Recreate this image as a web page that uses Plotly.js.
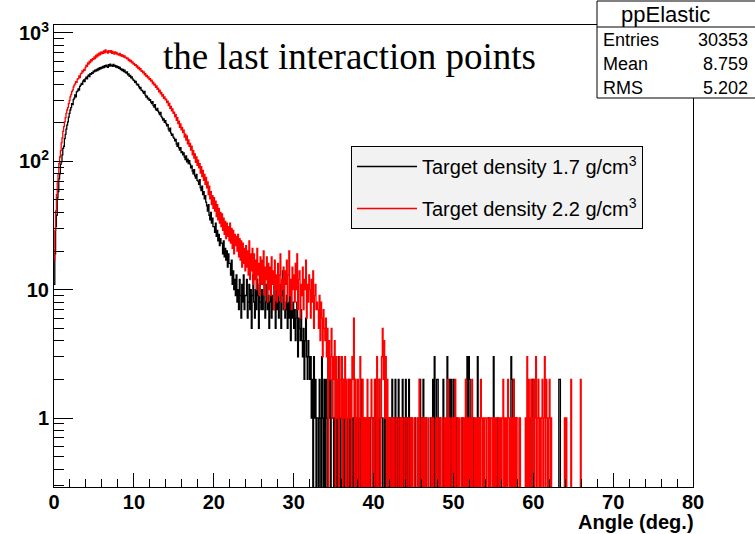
<!DOCTYPE html>
<html>
<head>
<meta charset="utf-8">
<script src="https://cdn.plot.ly/plotly-3.0.1.min.js"></script>
<style>html,body{margin:0;padding:0;background:#fff;}#chart{width:755px;height:534px;}</style>
</head>
<body>
<div id="chart"></div>
<script>
// Histogram: angle of the last interaction points, 800 bins of 0.1 deg from 0 to 80 deg
const binWidth = 0.1;
const binStart = 0;
const binEnd = 80;

const seriesNames = ['Target density 1.7 g/cm<sup>3</sup>', 'Target density 2.2 g/cm<sup>3</sup>'];

// counts per bin, density 1.7 g/cm3 (black); one row = 1 degree
const countsDensity17 = [
  11,19,31,38,52,58,73,80,95,99,
  112,126,131,150,162,178,191,203,221,236,
  251,262,281,276,302,311,329,318,347,352,
  366,359,384,392,405,398,421,430,417,441,
  452,438,461,470,457,482,476,491,485,503,
  498,512,505,521,509,530,518,537,526,541,
  533,549,538,556,544,561,548,539,566,552,
  571,555,562,548,568,551,559,542,553,537,
  546,529,538,517,524,508,521,499,512,494,
  487,496,471,479,458,466,447,455,438,429,
  426,413,419,401,392,398,381,369,376,358,
  356,347,339,351,328,317,322,306,311,298,
  302,289,281,292,271,264,276,255,249,258,
  246,238,231,240,224,218,209,214,201,207,
  197,189,193,178,172,181,166,159,163,154,
  151,144,148,136,131,139,127,122,128,117,
  119,112,116,108,103,110,99,104,96,101,
  95,89,92,84,80,86,77,74,79,71,
  70,66,72,62,59,64,55,58,51,54,
  48,45,41,46,38,35,40,33,36,31,
  31,28,33,26,29,24,27,22,25,23,
  23,19,24,18,21,17,20,15,19,16,
  16,13,17,11,14,10,12,9,13,8,
  10,7,12,9,6,11,8,13,7,9,
  9,12,6,8,11,7,10,5,9,13,
  8,6,10,7,12,9,5,11,8,7,
  10,7,9,13,6,8,11,7,9,5,
  8,11,6,9,7,12,8,5,10,7,
  9,6,8,11,5,9,14,7,8,6,
  7,9,5,8,6,10,4,7,6,8,
  5,7,4,6,8,3,6,5,4,7,
  4,3,5,2,4,6,3,2,4,3,
  2,3,1,2,0,3,1,2,0,1,
  1,0,2,1,0,3,1,0,2,0,
  2,1,0,3,1,2,0,1,2,1,
  0,1,2,0,1,0,3,1,0,1,
  1,0,2,0,1,0,0,1,0,2,
  0,1,0,0,1,0,2,0,0,1,
  1,0,0,1,0,2,0,0,1,0,
  0,0,1,0,0,1,0,0,0,1,
  1,0,2,0,1,0,0,2,0,0,
  0,1,0,0,2,0,1,0,0,0,
  1,0,0,2,0,1,0,2,0,1,
  0,2,0,1,0,0,2,0,1,0,
  2,0,1,0,2,0,0,1,0,0,
  0,0,1,0,0,0,1,0,2,0,
  1,0,2,0,0,1,0,0,0,0,
  0,1,0,0,2,0,3,1,0,2,
  2,0,0,1,0,0,0,2,0,0,
  0,0,3,1,0,2,0,2,0,0,
  2,0,0,0,1,0,0,0,0,0,
  0,1,0,0,0,0,2,3,0,3,
  2,1,0,0,0,1,0,0,0,0,
  3,0,0,1,0,0,0,0,0,0,
  0,0,0,0,1,0,0,0,0,0,
  3,0,0,0,0,1,0,0,0,0,
  0,0,0,0,0,0,0,0,0,0,
  0,0,3,2,0,2,0,0,1,0,
  0,0,0,0,0,0,0,0,0,0,
  0,0,0,0,0,1,0,0,0,2,
  2,0,0,0,0,0,0,0,0,0,
  0,0,0,0,0,0,0,0,0,0,
  0,0,0,0,0,0,0,0,0,0,
  0,0,2,2,0,0,0,0,0,0,
  0,0,0,0,0,0,0,0,0,0,
  0,0,0,0,0,0,0,0,0,0,
  0,0,0,0,0,0,0,0,0,0,
  0,0,0,0,0,0,0,0,0,0,
  0,0,0,0,0,0,0,0,0,0,
  0,0,0,0,0,0,0,0,0,0,
  0,0,0,0,0,0,0,0,0,0,
  0,0,0,0,0,0,0,0,0,0,
  0,0,0,0,0,0,0,0,0,0,
  0,0,0,0,0,0,0,0,0,0,
  0,0,0,0,0,0,0,0,0,0,
  0,0,0,0,0,0,0,0,0,0,
  0,0,0,0,0,0,0,0,0,0,
  0,0,0,0,0,0,0,0,0,0,
  0,0,0,0,0,0,0,0,0,0,
  0,0,0,0,0,0,0,0,0,0
];

// counts per bin, density 2.2 g/cm3 (red); one row = 1 degree
const countsDensity22 = [
  17,29,41,55,68,80,96,108,121,139,
  152,171,186,203,219,236,251,262,281,297,
  318,331,349,358,379,392,401,418,412,436,
  441,462,448,479,485,506,497,521,510,538,
  561,549,583,571,602,588,618,607,631,622,
  652,631,667,648,684,662,697,676,709,688,
  712,693,725,701,738,709,721,695,727,714,
  706,728,692,719,701,684,713,691,705,679,
  688,671,694,662,678,657,671,648,662,641,
  646,627,635,609,621,598,611,584,596,572,
  579,558,566,541,553,527,538,516,526,503,
  508,489,497,471,482,459,466,447,455,432,
  441,422,429,403,414,392,399,376,387,364,
  371,348,359,335,344,322,331,309,318,301,
  305,287,294,271,283,259,268,247,256,236,
  241,222,231,208,219,197,205,184,196,176,
  184,167,175,154,163,146,158,137,147,131,
  138,122,131,112,121,106,114,98,108,93,
  102,89,96,81,91,76,85,71,79,66,
  75,62,69,55,64,51,58,46,54,43,
  52,41,49,37,46,35,43,33,40,31,
  39,29,36,27,34,25,33,26,31,24,
  33,23,30,21,29,19,27,22,26,20,
  27,18,25,17,24,15,23,16,21,14,
  22,15,20,13,24,12,19,14,21,11,
  19,12,17,10,21,13,16,9,18,11,
  17,11,20,9,15,12,18,8,16,10,
  15,9,18,11,14,7,17,10,13,8,
  16,9,13,19,8,12,10,15,7,14,
  11,17,8,13,20,9,12,7,15,10,
  13,8,16,10,19,7,12,14,6,11,
  9,15,7,12,10,17,6,11,8,13,
  10,6,12,8,14,5,9,11,7,8,
  7,5,9,4,8,6,3,7,5,4,
  6,3,5,0,4,2,3,5,1,3,
  2,4,0,3,1,2,0,3,2,1,
  3,0,2,1,3,0,2,1,0,2,
  1,2,0,3,2,6,0,2,1,0,
  2,1,0,3,1,0,2,0,1,0,
  1,0,2,0,1,0,0,2,1,0,
  0,2,1,0,3,0,1,2,0,1,
  3,5,2,4,1,3,0,2,1,0,
  1,0,0,1,0,1,0,0,1,0,
  0,1,0,0,1,0,1,0,0,1,
  1,0,0,1,0,0,1,0,1,0,
  0,1,0,0,0,1,0,2,0,0,
  1,0,1,0,0,1,0,0,1,0,
  0,0,1,0,1,0,0,0,1,0,
  1,0,0,1,0,0,1,0,0,1,
  0,1,0,2,0,1,0,0,1,0,
  1,0,2,0,0,1,0,1,0,0,
  1,0,0,1,0,2,0,1,0,1,
  0,1,0,2,0,0,1,0,1,0,
  1,0,1,0,2,1,0,1,0,1,
  1,0,1,1,0,1,0,1,1,0,
  1,0,1,0,1,1,0,1,0,1,
  0,1,2,0,1,0,1,0,2,1,
  0,1,0,1,0,2,0,1,0,1,
  1,0,0,1,0,0,0,0,0,0,
  1,0,3,0,2,0,1,2,0,1,
  2,0,1,3,0,1,2,0,1,0,
  1,2,0,1,3,0,2,1,0,1,
  2,0,1,0,0,0,0,0,0,0,
  0,0,0,0,0,0,0,0,0,1,
  0,1,0,0,0,0,0,2,0,0,
  0,0,0,0,0,0,0,0,0,2,
  0,0,0,0,0,0,0,0,0,0,
  0,0,0,0,0,0,0,0,0,0,
  0,0,0,0,0,0,0,0,0,0,
  0,0,0,0,0,0,0,0,0,0,
  0,0,0,0,0,0,0,0,0,0,
  0,0,0,0,0,0,0,0,0,0,
  0,0,0,0,0,0,0,0,0,0,
  0,0,0,0,0,0,0,0,0,0,
  0,0,0,0,0,0,0,0,0,0,
  0,0,0,0,0,0,0,0,0,0,
  0,0,0,0,0,0,0,0,0,0,
  0,0,0,0,0,0,0,0,0,0,
  0,0,0,0,0,0,0,0,0,0,
  0,0,0,0,0,0,0,0,0,0
];

const xTickVals = [0, 10, 20, 30, 40, 50, 60, 70, 80];
const xTickText = ['0', '10', '20', '30', '40', '50', '60', '70', '80'];
const yTickVals = [1, 10, 100, 1000];
const yTickText = ['1', '10', '10<sup>2</sup>', '10<sup>3</sup>'];

const statsTitle = 'ppElastic';
const statsLabels = ['Entries', 'Mean', 'RMS'];
const statsValues = ['30353', '8.759', '5.202'];

const annotationText = 'the last interaction points';
const xAxisTitle = 'Angle (deg.)';

// step-line builder (log axis: empty bins drawn below the frame, as ROOT does)
function stepTrace(counts, name, color, group) {
  const x = [], y = [];
  const floorVal = 0.01;
  for (let i = 0; i < counts.length; i++) {
    x.push(+(binStart + i * binWidth).toFixed(3));
    y.push(counts[i] > 0 ? counts[i] : floorVal);
  }
  x.push(binEnd);
  y.push(counts[counts.length - 1] > 0 ? counts[counts.length - 1] : floorVal);
  return {
    type: 'scatter', mode: 'lines', x: x, y: y, name: name,
    line: {color: color, width: 1.3, shape: 'hv'},
    legendgroup: group, hoverinfo: 'x+y'
  };
}

const traces = [
  stepTrace(countsDensity17, seriesNames[0], '#000000', 'a'),
  stepTrace(countsDensity22, seriesNames[1], '#ff0000', 'b')
];

// pixel -> paper helpers for overlay texts
const L = 54, R = 693, T = 25, B = 487;
const px = v => (v - L) / (R - L);
const py = v => (B - v) / (B - T);

const yMinor = [];
[0.1, 1, 10, 100].forEach(d => { for (let k = 2; k <= 9; k++) { const v = k * d; if (v >= 0.29 && v <= 1150) yMinor.push(v); } });

const sansFont = 'Liberation Sans, Arial, Helvetica, sans-serif';

const annotations = [
  {xref: 'paper', yref: 'paper', x: px(161), y: py(56), xanchor: 'left', yanchor: 'middle', showarrow: false,
   text: annotationText, font: {family: 'Liberation Serif, Times New Roman, serif', size: 37, color: '#000'}},
  {xref: 'paper', yref: 'paper', x: px(696), y: py(535), xanchor: 'right', yanchor: 'bottom', showarrow: false,
   text: xAxisTitle, font: {family: sansFont, size: 20, color: '#000', weight: 'bold'}},
  {xref: 'paper', yref: 'paper', x: px(665), y: py(14), xanchor: 'center', yanchor: 'middle', showarrow: false,
   text: statsTitle, font: {family: sansFont, size: 22, color: '#000'}}
];
const statsY = [40, 64, 88];
statsLabels.forEach((lab, i) => {
  annotations.push({xref: 'paper', yref: 'paper', x: px(601), y: py(statsY[i]), xanchor: 'left', yanchor: 'middle', showarrow: false,
    text: lab, font: {family: sansFont, size: 18, color: '#000'}});
  annotations.push({xref: 'paper', yref: 'paper', x: px(750), y: py(statsY[i]), xanchor: 'right', yanchor: 'middle', showarrow: false,
    text: statsValues[i], font: {family: sansFont, size: 18, color: '#000'}});
});

const shapes = [
  {type: 'rect', xref: 'paper', yref: 'paper', x0: px(597), x1: px(757), y0: py(98), y1: py(1),
   line: {color: '#000', width: 1}, fillcolor: '#ffffff', layer: 'above'},
  {type: 'line', xref: 'paper', yref: 'paper', x0: px(597), x1: px(757), y0: py(27), y1: py(27),
   line: {color: '#000', width: 1}, layer: 'above'}
];

const layout = {
  width: 755, height: 534,
  margin: {l: L, r: 755 - R, t: T, b: 534 - B, pad: 0},
  paper_bgcolor: '#ffffff', plot_bgcolor: '#ffffff',
  showlegend: true,
  legend: {
    x: px(351), y: py(146), xanchor: 'left', yanchor: 'top',
    bgcolor: '#f2f2f2', bordercolor: '#000', borderwidth: 1,
    font: {family: sansFont, size: 20, color: '#000'},
    tracegroupgap: 13, itemwidth: 60, entrywidth: 290,
    traceorder: 'grouped'
  },
  xaxis: {
    range: [binStart, binEnd], type: 'linear',
    tickmode: 'array', tickvals: xTickVals, ticktext: xTickText,
    ticks: 'inside', ticklen: 14, tickwidth: 1, tickcolor: '#000',
    ticklabelstandoff: -3,
    minor: {tickmode: 'linear', tick0: 0, dtick: 2, ticks: 'inside', ticklen: 8, tickwidth: 1, tickcolor: '#000'},
    showline: true, linecolor: '#000', linewidth: 1, mirror: true,
    showgrid: false, zeroline: false,
    tickfont: {family: sansFont, size: 20, color: '#000', weight: 'bold'}
  },
  yaxis: {
    type: 'log', range: [Math.log10(0.29), Math.log10(1153)],
    tickmode: 'array', tickvals: yTickVals, ticktext: yTickText,
    ticks: 'inside', ticklen: 19, tickwidth: 1, tickcolor: '#000',
    minor: {tickmode: 'array', tickvals: yMinor, ticks: 'inside', ticklen: 10, tickwidth: 1, tickcolor: '#000'},
    showline: true, linecolor: '#000', linewidth: 1, mirror: true,
    showgrid: false, zeroline: false,
    tickfont: {family: sansFont, size: 20, color: '#000', weight: 'bold'}
  },
  annotations: annotations,
  shapes: shapes
};

Plotly.newPlot('chart', traces, layout, {staticPlot: true, displayModeBar: false});
</script>
</body>
</html>
